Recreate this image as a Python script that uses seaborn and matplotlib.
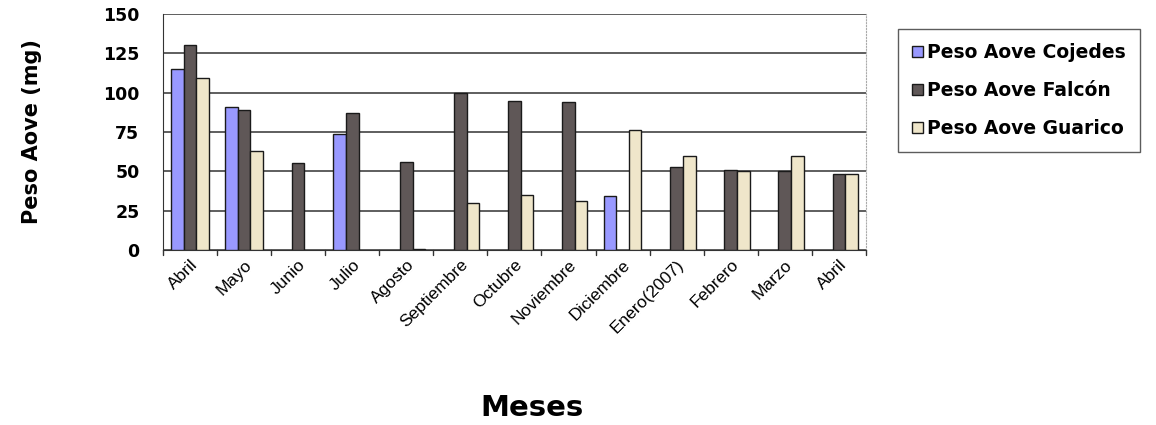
import numpy as np
import pandas as pd
import matplotlib
matplotlib.use("Agg")
import matplotlib.pyplot as plt
import seaborn as sns

meses = ["Abril", "Mayo", "Junio", "Julio", "Agosto", "Septiembre", "Octubre",
         "Noviembre", "Diciembre", "Enero(2007)", "Febrero", "Marzo", "Abril"]
cojedes = [115, 91, np.nan, 74, np.nan, np.nan, np.nan, np.nan, 34, np.nan, np.nan, np.nan, np.nan]
falcon = [130, 89, 55, 87, 56, 100, 95, 94, np.nan, 53, 51, 50, 48]
guarico = [109, 63, np.nan, np.nan, 0.5, 30, 35, 31, 76, 60, 50, 60, 48]
series = ["Peso Aove Cojedes", "Peso Aove Falcón", "Peso Aove Guarico"]
colores = ["#9999FF", "#5F5757", "#EFE6CA"]

idx = list(range(len(meses)))
df = pd.DataFrame({
    "idx": idx * 3,
    "serie": np.repeat(series, len(meses)),
    "peso": cojedes + falcon + guarico,
})

sns.set_style("white")
plt.rcParams["font.family"] = ["Liberation Sans", "DejaVu Sans"]
plt.rcParams["text.color"] = "black"
heavy = ["DejaVu Sans"]

fig = plt.figure(figsize=(11.56, 4.25), dpi=100)
ax = fig.add_axes([0.141, 0.412, 0.608, 0.555])

sns.barplot(data=df, x="idx", y="peso", hue="serie", hue_order=series,
            palette=colores, width=0.7, edgecolor="#1a1a1a", linewidth=1.0,
            saturation=1, ax=ax, zorder=3)

ax.set_ylim(0, 150)
ax.set_yticks(range(0, 151, 25))
ax.set_xlim(-0.5, len(meses) - 0.5)
ax.yaxis.grid(True, color="#333333", linewidth=1.1, zorder=0)
ax.set_axisbelow(True)
ax.set_xticks(idx)
ax.set_xticklabels(meses, rotation=45, ha="right", rotation_mode="anchor",
                   fontsize=12.5, color="black")
for lbl in ax.get_yticklabels():
    lbl.set_family(heavy)
    lbl.set_fontweight("bold")
    lbl.set_fontsize(12.5)
    lbl.set_color("black")
ax.tick_params(axis="y", length=4, width=1, color="#333333", direction="out", pad=13)
ax.tick_params(axis="x", length=0, pad=5)
for x in np.arange(-0.5, len(meses), 1.0):
    ax.plot([x, x], [0, -3], color="#333333", lw=1, clip_on=False, zorder=4)

ax.spines["top"].set_visible(False)
ax.spines["left"].set_color("#333333")
ax.spines["bottom"].set_color("#333333")
ax.spines["right"].set_color("#AAAAAA")
ax.spines["right"].set_linestyle(":")

ax.set_xlabel("Meses", fontsize=21, fontweight="bold", family=heavy, color="black")
ax.xaxis.set_label_coords(0.525, -0.61)
ax.set_ylabel("Peso Aove (mg)", fontsize=15, fontweight="bold", family=heavy,
              color="black")
ax.yaxis.set_label_coords(-0.172, 0.5)

leg = ax.legend(loc="upper left", bbox_to_anchor=(1.046, 0.935), frameon=True,
                fancybox=False, edgecolor="#333333", handlelength=0.55,
                handleheight=0.55, handletextpad=0.25, labelspacing=1.0,
                borderpad=0.75, borderaxespad=0,
                prop={"family": heavy, "weight": "bold", "size": 13.5})
leg.get_frame().set_linewidth(1.0)
for t in leg.get_texts():
    t.set_color("black")

fig.savefig("out.png", dpi=100)
